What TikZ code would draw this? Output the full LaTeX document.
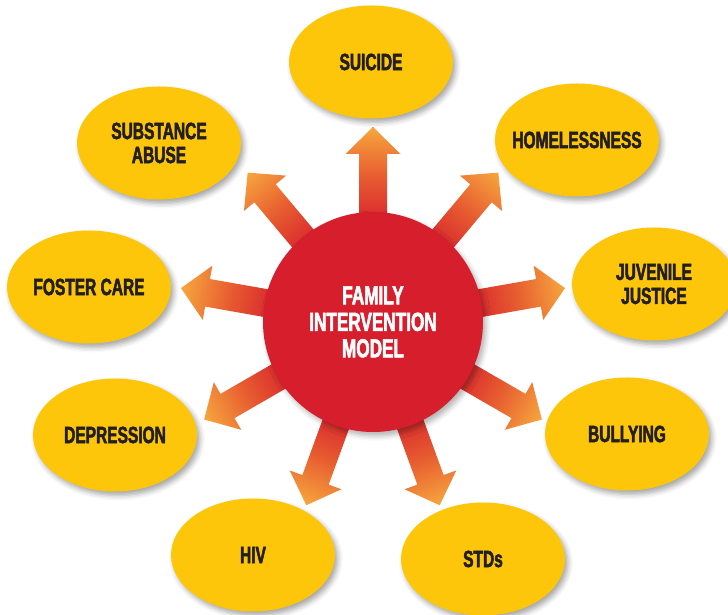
\documentclass[tikz,border=0pt]{standalone}
\usepackage{fontspec}
\newfontfamily\hfont[FakeStretch=0.66,FakeBold=2.2]{Liberation Sans}
\usetikzlibrary{shapes.geometric,shadows.blur}
\definecolor{bubble}{RGB}{253,198,10}
\definecolor{ink}{RGB}{35,31,32}
\definecolor{cred}{RGB}{215,30,45}
\definecolor{arrred}{RGB}{215,32,46}
\definecolor{arrmid}{RGB}{231,92,48}
\definecolor{arrorange}{RGB}{247,166,62}
\begin{document}
\begin{tikzpicture}[x=1pt,y=1pt,
  bub/.style={ellipse, fill=bubble, minimum width=164pt, minimum height=113pt, inner sep=0pt,
    blur shadow={shadow xshift=3pt, shadow yshift=-4pt, shadow blur radius=5pt, shadow opacity=35}},
  btxt/.style={font=\hfont\bfseries\fontsize{23.5}{24}\selectfont, text=ink, align=center, inner sep=0pt},
  hub/.style={circle, fill=cred, minimum size=220pt, inner sep=0pt,
    blur shadow={shadow xshift=3pt, shadow yshift=-4pt, shadow blur radius=5pt, shadow opacity=30}},
  htxt/.style={font=\hfont\bfseries\fontsize{26}{26.5}\selectfont, text=white, align=center, inner sep=0pt},
  ray/.style={left color=arrred, right color=arrorange, middle color=arrmid}]
\useasboundingbox (0,0) rectangle (728,615);
% arrows
\foreach \a in {90,50,10,-30,-70,-110,-150,170,130} {
  \begin{scope}[transform canvas={shift={(373,293)},rotate=\a}]
    \shade[ray] (95,-14) -- (168,-14) -- (168,-27.5) -- (195,0) -- (168,27.5) -- (168,14) -- (95,14) -- cycle;
  \end{scope}
}
% hub
\node[hub] (fim) at (373,293) {};
\node[htxt] at (fim) {FAMILY\\INTERVENTION\\MODEL};
% bubbles
\node[bub] (suicide) at (371,553) {};
\node[btxt] at (suicide) {SUICIDE};
\node[bub] (homeless) at (577,475) {};
\node[btxt] at (homeless) {HOMELESSNESS};
\node[bub] (juvenile) at (654,331) {};
\node[btxt] at (juvenile) {JUVENILE\\JUSTICE};
\node[bub] (bullying) at (627,181) {};
\node[btxt] at (bullying) {BULLYING};
\node[bub] (stds) at (483,56) {};
\node[btxt] at (stds) {STDs};
\node[bub] (hiv) at (253,60) {};
\node[btxt] at (hiv) {HIV};
\node[bub] (depression) at (115,180) {};
\node[btxt] at (depression) {DEPRESSION};
\node[bub] (foster) at (89,328) {};
\node[btxt] at (foster) {FOSTER CARE};
\node[bub] (substance) at (159,472) {};
\node[btxt] at (substance) {SUBSTANCE\\ABUSE};
\end{tikzpicture}
\end{document}
